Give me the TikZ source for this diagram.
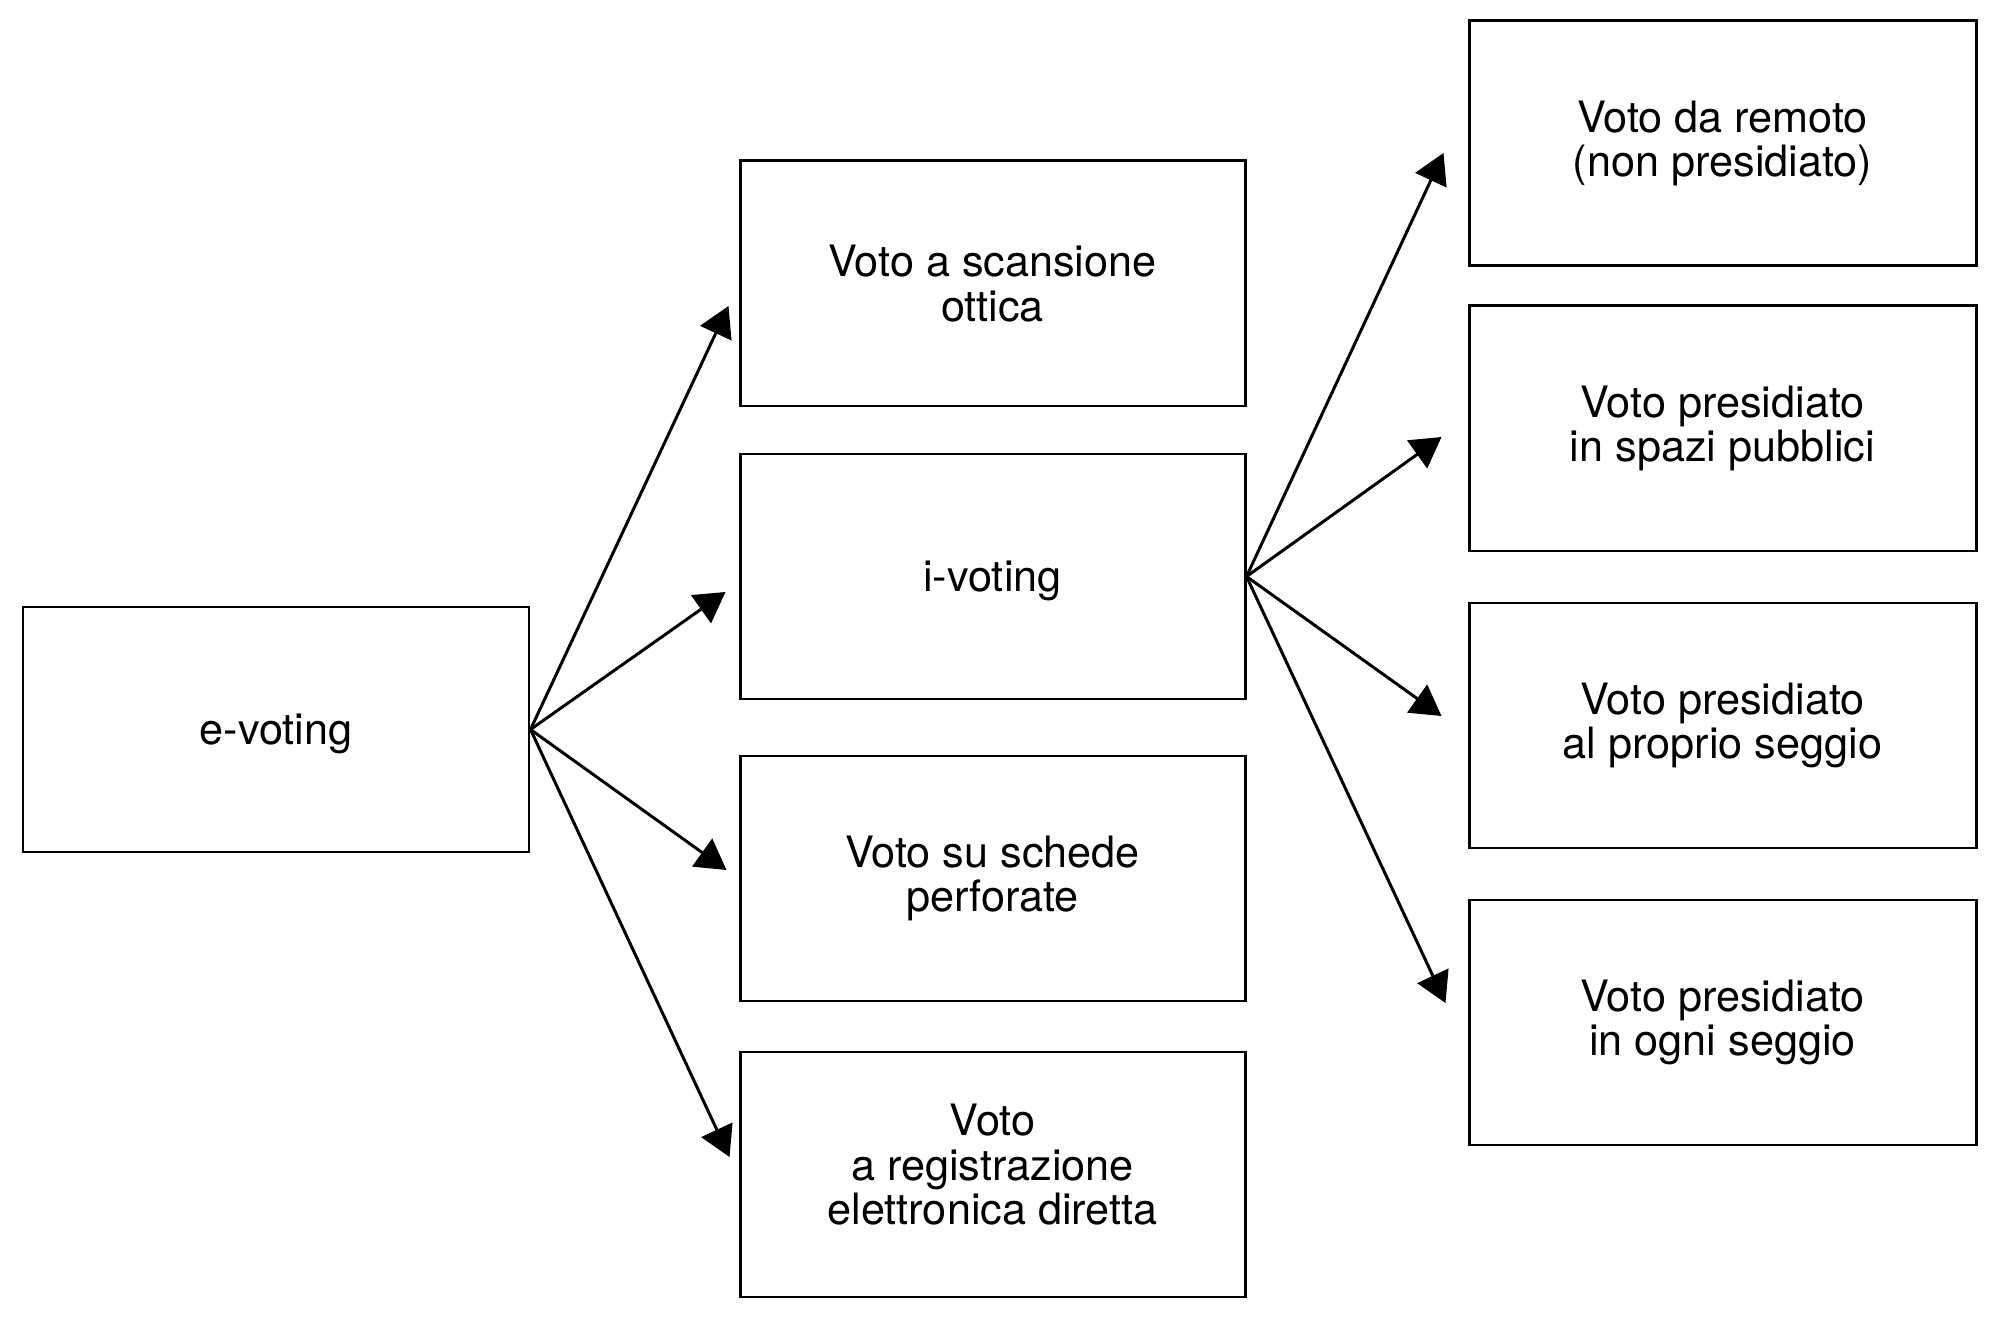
\documentclass[tikz,border=0pt]{standalone}
\usepackage{fontspec}
\setmainfont{TeX Gyre Heros}
\usetikzlibrary{arrows.meta}

\tikzset{
  box/.style={draw=black, line width=0.85pt, minimum width=5.05cm, minimum height=2.45cm,
              inner sep=0pt, align=center, font=\fontsize{12.3}{12.7}\selectfont},
  arr/.style={-{Triangle[length=3mm,width=3.4mm]}, line width=0.85pt}
}

\begin{document}
\begin{tikzpicture}
    \useasboundingbox (0,0) rectangle (20,13.33); % margini

    % colonna sinistra
    \node[box, minimum width=5.06cm, text depth=0pt] (evoting) at (2.76,6.035) {e-voting};

    % colonna centrale
    \node[box] (scan)    at (9.925,10.495) {Voto a scansione\\ottica};
    \node[box, text depth=0pt] (ivoting) at (9.925, 7.565) {i-voting};
    \node[box] (perf)    at (9.925, 4.545) {Voto su schede\\perforate};
    \node[box, text depth=5.8pt] (dre) at (9.925, 1.585) {Voto\\a registrazione\\elettronica diretta};

    % colonna destra
    \node[box, minimum width=5.07cm] (remoto)   at (17.225,11.895) {Voto da remoto\\(non presidiato)};
    \node[box, minimum width=5.07cm] (pubblici) at (17.225, 9.045) {Voto presidiato\\in spazi pubblici};
    \node[box, minimum width=5.07cm] (proprio)  at (17.225, 6.075) {Voto presidiato\\al proprio seggio};
    \node[box, minimum width=5.07cm] (ogni)     at (17.225, 3.105) {Voto presidiato\\in ogni seggio};

    % frecce da e-voting
    \draw[arr] (evoting.east) -- ([xshift=-1.0mm,yshift=-2.25mm]scan.west);
    \draw[arr] (evoting.east) -- ([xshift=-1.3mm,yshift=-1.55mm]ivoting.west);
    \draw[arr] (evoting.east) -- ([xshift=-1.2mm,yshift= 0.85mm]perf.west);
    \draw[arr] (evoting.east) -- ([xshift=-0.9mm,yshift= 1.75mm]dre.west);

    % frecce da i-voting
    \draw[arr] (ivoting.east) -- ([xshift=-2.4mm,yshift=-0.95mm]remoto.west);
    \draw[arr] (ivoting.east) -- ([xshift=-2.6mm,yshift=-0.85mm]pubblici.west);
    \draw[arr] (ivoting.east) -- ([xshift=-2.6mm,yshift= 0.95mm]proprio.west);
    \draw[arr] (ivoting.east) -- ([xshift=-2.2mm,yshift= 1.95mm]ogni.west);
\end{tikzpicture}
\end{document}
